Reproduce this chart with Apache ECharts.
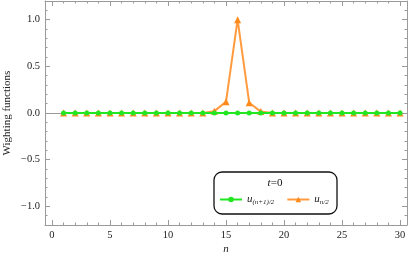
<!DOCTYPE html>
<html><head><meta charset="utf-8">
<script src="https://cdn.jsdelivr.net/npm/echarts@6/dist/echarts.min.js"></script>
<style>html,body{margin:0;padding:0;background:#fff}#c{width:409px;height:260px}</style>
</head><body><div id="c"></div>
<script>
const nValues = [1,2,3,4,5,6,7,8,9,10,11,12,13,14,15,16,17,18,19,20,21,22,23,24,25,26,27,28,29,30];
const uHalfPlus = [0,0,0,0,0,0,0,0,0,0,0,0,0,0,0,0,0,0,0,0,0,0,0,0,0,0,0,0,0,0];
const uHalf = [0,0,0,0,0,0,0,0,0,0,0,0,0,0.02,0.12,1.0,0.11,0.015,0,0,0,0,0,0,0,0,0,0,0,0];
const xMajor = [0,5,10,15,20,25,30];
const yMajor = [-1,-0.5,0,0.5,1];
const xMinor = [1,2,3,4,6,7,8,9,11,12,13,14,16,17,18,19,21,22,23,24,26,27,28,29];
const yMinor = [-1.2,-1.1,-0.9,-0.8,-0.7,-0.6,-0.4,-0.3,-0.2,-0.1,0.1,0.2,0.3,0.4,0.6,0.7,0.8,0.9,1.1,1.2];
const seriesNames = ['u(n+1)/2','un/2'];

const serif = 'Liberation Serif';
const grey = '#9a9a9a';
const xr = {min:-0.6,max:30.6};
const yr = {min:-1.2,max:1.2};
function xa(pos, ticks, len, labels, line){
  return Object.assign({type:'value', position:pos, gridIndex:0}, xr, {
    axisLine:{show:line, onZero:false, lineStyle:{color:grey,width:1}},
    axisTick:{show:true, inside:true, length:len, customValues:ticks, lineStyle:{color:grey}},
    axisLabel:{show:labels, customValues:ticks, color:'#222', fontFamily:serif, fontSize:10.5, margin:5},
    splitLine:{show:false}, minorTick:{show:false}
  });
}
function ya(pos, ticks, len, labels, line){
  return Object.assign({type:'value', position:pos, gridIndex:0}, yr, {
    axisLine:{show:line, onZero:false, lineStyle:{color:grey,width:1}},
    axisTick:{show:true, inside:true, length:len, customValues:ticks, lineStyle:{color:grey}},
    axisLabel:{show:labels, customValues:ticks, color:'#222', fontFamily:serif, fontSize:10.5, margin:5,
      formatter:v=>v<0?'\u2212'+Math.abs(v).toFixed(1):v.toFixed(1)},
    splitLine:{show:false}, minorTick:{show:false}
  });
}
const xAxes = [xa('bottom',xMajor,5,true,true), xa('bottom',xMinor,2.5,false,false), xa('top',xMajor,5,false,true), xa('top',xMinor,2.5,false,false)];
xAxes[0].name = 'n'; xAxes[0].nameLocation='middle'; xAxes[0].nameGap=19; xAxes[0].nameMoveOverlap=false;
xAxes[0].nameTextStyle={fontFamily:serif,fontStyle:'italic',fontSize:11,color:'#222'};
const yAxes = [ya('left',yMajor,5,true,true), ya('left',yMinor,2.5,false,false), ya('right',yMajor,5,false,true), ya('right',yMinor,2.5,false,false)];
yAxes[0].name='Wighting functions'; yAxes[0].nameLocation='middle'; yAxes[0].nameGap=32; yAxes[0].nameMoveOverlap=false;
yAxes[0].nameTextStyle={fontFamily:serif,fontSize:11,color:'#222'};

const chart = echarts.init(document.getElementById('c'));
chart.setOption({
  animation:false,
  grid:{left:45,right:2,top:1,bottom:35,containLabel:false,outerBoundsMode:'none'},
  xAxis:xAxes, yAxis:yAxes,
  legend:{left:219,top:194,z:20,padding:0,itemWidth:22,itemHeight:7,itemGap:12,data:seriesNames,
    formatter:function(name){return name==='u(n+1)/2'?'{u|u}{s|(n+1)/2}':'{u|u}{s|n/2}';},
    textStyle:{fontFamily:serif,fontSize:10,color:'#222',
      rich:{u:{fontFamily:serif,fontStyle:'italic',fontSize:11},s:{fontFamily:serif,fontStyle:'italic',fontSize:7,verticalAlign:'bottom',padding:[5,0,0,0]}}}},
  graphic:[
    {type:'rect',shape:{x:214,y:172,width:123,height:42,r:8},style:{fill:'#fff',stroke:'#111',lineWidth:1.3},z:5},
    {type:'text',x:275,y:178,style:{text:'{i|t}=0',rich:{i:{fontStyle:'italic',fontFamily:serif,fontSize:11}},fontFamily:serif,fontSize:11,fill:'#111',align:'center'},z:6}
  ],
  series:[
    {name:'u(n+1)/2',type:'line',data:nValues.map((n,i)=>[n,uHalfPlus[i]]),symbol:'circle',symbolSize:5,
     itemStyle:{color:'#22e622'},lineStyle:{color:'#22e622',width:2},z:3,
     markLine:{silent:true,symbol:'none',label:{show:false},lineStyle:{color:grey,width:1,type:'solid'},data:[{yAxis:0}],z:1}},
    {name:'un/2',type:'line',data:nValues.map((n,i)=>[n,uHalf[i]]),symbol:'triangle',symbolSize:7,
     itemStyle:{color:'#ff8a1c'},lineStyle:{color:'#ff8a1c',width:2,opacity:0.85},z:2}
  ]
});
</script></body></html>
